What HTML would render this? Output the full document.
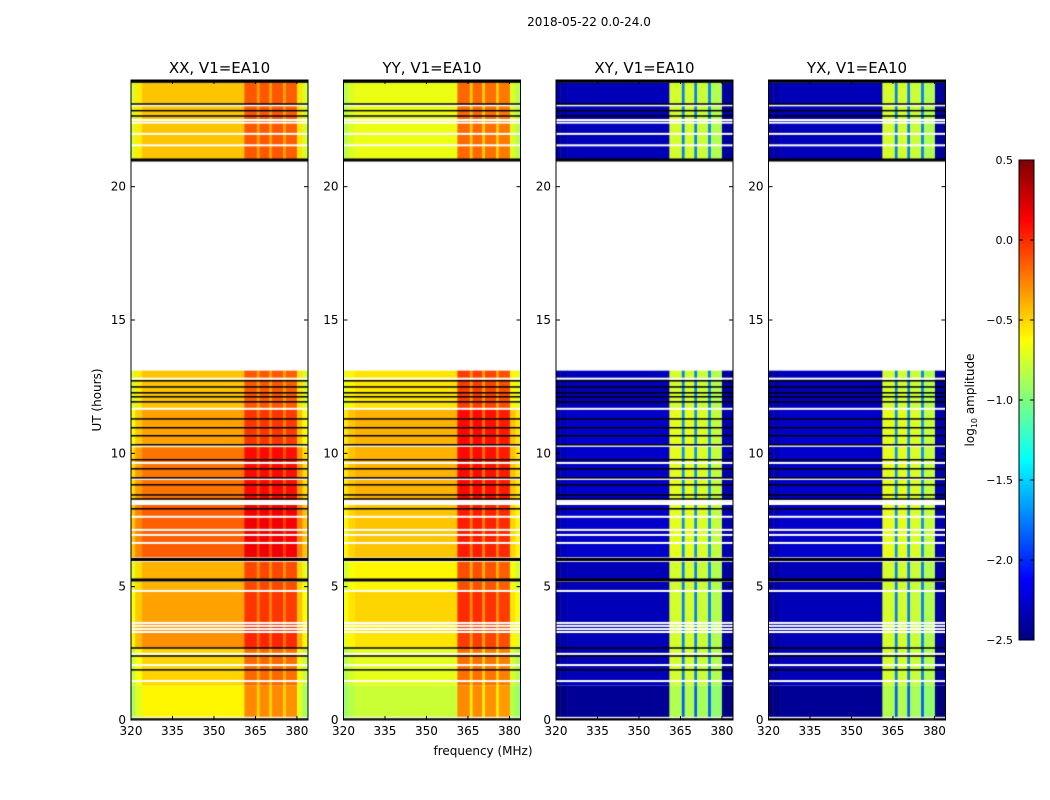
<!DOCTYPE html>
<html><head><meta charset="utf-8"><style>
html,body{margin:0;padding:0;background:#fff;}
#root{position:relative;width:1050px;height:800px;overflow:hidden;font-family:"DejaVu Sans","Liberation Sans",sans-serif;}
canvas{position:absolute;}
svg{position:absolute;left:0;top:0;}
</style></head><body>
<div id="root">
<canvas id="c0" width="177" height="640" style="left:131px;top:80px"></canvas>
<canvas id="c1" width="177" height="640" style="left:343.5px;top:80px"></canvas>
<canvas id="c2" width="177" height="640" style="left:556px;top:80px"></canvas>
<canvas id="c3" width="177" height="640" style="left:768.5px;top:80px"></canvas>
<canvas id="cb" width="15" height="480" style="left:1019px;top:160px"></canvas>
<svg id="ov" width="1050" height="800">
<text x="589" y="26" font-size="12" text-anchor="middle">2018-05-22 0.0-24.0</text>
<text x="483" y="755" font-size="12" text-anchor="middle">frequency (MHz)</text>
<text x="0" y="0" font-size="12" text-anchor="middle" transform="translate(101,400) rotate(-90)">UT (hours)</text>
<text x="0" y="0" font-size="12" text-anchor="middle" transform="translate(974,400) rotate(-90)">log<tspan font-size="8" dy="3">10</tspan><tspan dy="-3"> amplitude</tspan></text>
</svg>
</div>
<script>
// time segments (hours)
const segStart = [0, 1.3, 2.7, 3.6, 4.8, 6.1, 8.2, 10.2, 11.7, 21.0];
const segEnd   = [1.3, 2.7, 3.6, 4.8, 6.0, 8.1, 10.2, 11.7, 13.1, 23.9];
const xxBase = [-0.6, -0.5, -0.3, -0.35, -0.4, -0.15, -0.22, -0.35, -0.45, -0.45];
const yyBase = [-0.78, -0.7, -0.55, -0.5, -0.6, -0.45, -0.4, -0.4, -0.55, -0.68];
const xyBase = [-0.1, 0, 0, 0, 0, 0.05, 0.05, 0.05, 0, 0];
const yxBase = [-0.1, 0, 0, 0, 0, 0.05, 0.05, 0.05, 0, 0];
// frequency intervals (MHz)
const freqEdges = [320, 321.5, 324, 361, 365.5, 366.5, 370, 371, 375, 376, 380, 382, 384];
const xxProfile = [-0.3, -0.12, 0, 0.32, 0.1, 0.32, 0.1, 0.32, 0.1, 0.3, -0.1, -0.3];
const yyProfile = [-0.15, -0.05, 0, 0.5, 0.2, 0.5, 0.2, 0.48, 0.2, 0.45, -0.05, -0.15];
const crossProfile = [-2.4, -2.38, -2.33, -0.75, -1.75, -0.75, -1.75, -0.78, -1.75, -0.85, -2.4, -2.42];
// flagged lines (hours)
const whiteLines = [23.05, 22.5, 22.4, 21.98, 21.55, 12.8, 11.67, 10.28, 9.64, 9.04, 8.22, 8.1, 7.62, 7.13, 6.94, 6.64, 5.97, 5.22, 4.84, 3.64, 3.53, 3.41, 3.3, 2.48, 2.06, 1.46, 0.08];
const blackLines = [23.1, 22.85, 22.65, 12.72, 12.49, 12.27, 12.12, 11.93, 11.29, 10.96, 10.66, 10.32, 9.76, 9.42, 9.08, 8.82, 8.44, 8.29, 7.92, 2.7, 2.4, 1.88, 0.04];
const thickBlack = [23.95, 21.0, 6.02, 5.25];
const panelTitles = ["XX, V1=EA10", "YY, V1=EA10", "XY, V1=EA10", "YX, V1=EA10"];
const panelLeft = [131, 343.5, 556, 768.5];
const xTicks = [320, 335, 350, 365, 380];
const yTicks = [0, 5, 10, 15, 20];
const cbTicks = [-2.5, -2.0, -1.5, -1.0, -0.5, 0.0, 0.5];
const vmin = -2.5, vmax = 0.5;
const W = 177, H = 640, fMin = 320, fMax = 384, hMin = 0, hMax = 24;

function xs(f){return (f - fMin) / (fMax - fMin) * W;}
function ys(h){return (hMax - h) / (hMax - hMin) * H;}
function cl(v){return Math.max(0, Math.min(1, v));}
function jet(v){
  const t = cl((v - vmin) / (vmax - vmin));
  const r = cl(1.5 - Math.abs(4*t - 3)), g = cl(1.5 - Math.abs(4*t - 2)), b = cl(1.5 - Math.abs(4*t - 1));
  return 'rgb(' + Math.round(r*255) + ',' + Math.round(g*255) + ',' + Math.round(b*255) + ')';
}
const bases = [xxBase, yyBase, xyBase, yxBase];
const profiles = [xxProfile, yyProfile, crossProfile, crossProfile];
for (let p = 0; p < 4; p++) {
  const ctx = document.getElementById('c' + p).getContext('2d');
  ctx.fillStyle = '#fff'; ctx.fillRect(0, 0, W, H);
  for (let s = 0; s < segStart.length; s++) {
    const y0 = ys(segEnd[s]), y1 = ys(segStart[s]);
    for (let k = 0; k < freqEdges.length - 1; k++) {
      ctx.fillStyle = jet(bases[p][s] + profiles[p][k]);
      const x0 = xs(freqEdges[k]), x1 = xs(freqEdges[k+1]);
      ctx.fillRect(x0, y0, x1 - x0 + 0.5, y1 - y0);
    }
  }
  ctx.fillStyle = '#fff';
  whiteLines.forEach(h => ctx.fillRect(0, ys(h) - 1, W, 2));
  ctx.fillStyle = '#000';
  blackLines.forEach(h => ctx.fillRect(0, ys(h) - 0.75, W, 1.5));
  thickBlack.forEach(h => ctx.fillRect(0, ys(h) - 1.5, W, 3));
}
// colorbar
(function(){
  const ctx = document.getElementById('cb').getContext('2d');
  for (let i = 0; i < 480; i++) {
    ctx.fillStyle = jet(vmax - (i + 0.5) / 480 * (vmax - vmin));
    ctx.fillRect(0, i, 15, 1);
  }
})();
const NS = 'http://www.w3.org/2000/svg';
const ov = document.getElementById('ov');
function mk(tag, attrs){const e = document.createElementNS(NS, tag); for (const k in attrs) e.setAttribute(k, attrs[k]); ov.appendChild(e); return e;}
for (let p = 0; p < 4; p++) {
  const L = panelLeft[p], T = 80;
  const fr = mk('rect', {x: L, y: T, width: W, height: H, fill: 'none', stroke: '#000', 'stroke-width': 1});
  
  
  const tt = mk('text', {x: L + W/2, y: 73, 'font-size': 15, 'text-anchor': 'middle'});
  tt.textContent = panelTitles[p];
  
  
  xTicks.forEach(f => {
    const x = L + xs(f);
    mk('line', {x1: x, y1: T + H, x2: x, y2: T + H - 4, stroke: '#000'});
    mk('line', {x1: x, y1: T, x2: x, y2: T + 4, stroke: '#000'});
    const t = mk('text', {x: x, y: 735, 'font-size': 12, 'text-anchor': 'middle'});
    t.textContent = f;
    
    
  });
  yTicks.forEach(h => {
    const y = T + ys(h);
    mk('line', {x1: L, y1: y, x2: L + 4, y2: y, stroke: '#000'});
    mk('line', {x1: L + W, y1: y, x2: L + W - 4, y2: y, stroke: '#000'});
    const t = mk('text', {x: L - 5, y: y + 4, 'font-size': 12, 'text-anchor': 'end'});
    t.textContent = h;
    
    
  });
}
const cbf = mk('rect', {x: 1019, y: 160, width: 15, height: 480, fill: 'none', stroke: '#000'});


cbTicks.forEach(v => {
  const y = 160 + (vmax - v) / (vmax - vmin) * 480;
  mk('line', {x1: 1019, y1: y, x2: 1023, y2: y, stroke: '#000'});
  mk('line', {x1: 1034, y1: y, x2: 1030, y2: y, stroke: '#000'});
  const t = mk('text', {x: 1013, y: y + 4, 'font-size': 11, 'text-anchor': 'end'});
  t.textContent = (v < 0 ? '\u2212' : '') + Math.abs(v).toFixed(1);
  
  
});
</script>
</body></html>
